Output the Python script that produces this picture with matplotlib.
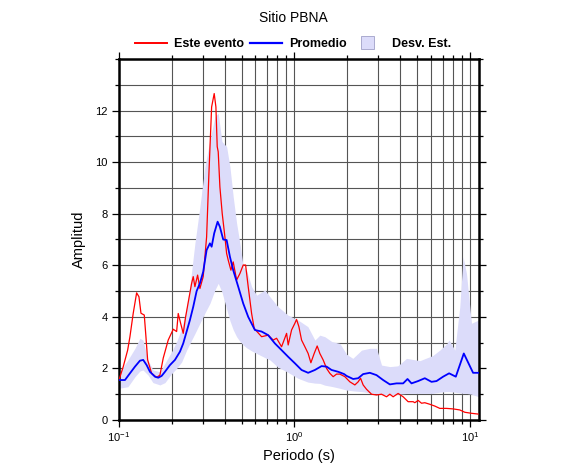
import numpy as np
import matplotlib
matplotlib.use('Agg')
import matplotlib.pyplot as plt
from matplotlib.ticker import LogLocator, MultipleLocator, NullFormatter, FixedLocator
from matplotlib.patches import Patch, Rectangle
from matplotlib.lines import Line2D
from matplotlib.legend_handler import HandlerPatch

plt.rcParams['font.family'] = ['Liberation Sans', 'DejaVu Sans']

# Este evento (red)
ev_per = [0.100, 0.1058, 0.1121, 0.1155, 0.1206, 0.1261, 0.1300, 0.1335, 0.1394, 0.1425,
          0.1457, 0.1535, 0.1640, 0.1712, 0.1788, 0.1909, 0.2039, 0.2132, 0.2177, 0.2247,
          0.2325, 0.2399, 0.2506, 0.2596, 0.2651, 0.2710, 0.2808, 0.2894, 0.3022, 0.3160,
          0.3257, 0.3375, 0.3491, 0.3570, 0.3632, 0.3680, 0.3762, 0.3878, 0.4018, 0.4109,
          0.4196, 0.4347, 0.4480, 0.4685, 0.4893, 0.5109, 0.5272, 0.5455, 0.5704, 0.5902,
          0.6504, 0.7091, 0.7572, 0.7917, 0.8453, 0.9029, 0.9220, 0.9639, 1.0065, 1.029,
          1.061, 1.099, 1.148, 1.198, 1.242, 1.297, 1.349, 1.397, 1.459, 1.526,
          1.593, 1.664, 1.740, 1.817, 1.940, 2.072, 2.212, 2.310, 2.384, 2.466,
          2.579, 2.754, 2.940, 3.140, 3.353, 3.502, 3.656, 3.904, 4.169, 4.451,
          4.753, 4.860, 5.075, 5.307, 5.541, 5.917, 6.318, 6.746, 7.368, 8.034,
          8.770, 9.365, 10.22, 11.15]
ev_amp = [1.55, 2.07, 2.71, 3.23, 4.14, 4.93, 4.78, 4.14, 4.07, 3.23,
          2.33, 1.81, 1.65, 1.74, 2.40, 3.10, 3.52, 3.43, 4.13, 3.75,
          3.36, 4.00, 4.72, 5.30, 5.56, 5.17, 5.62, 5.10, 5.56, 7.10,
          9.56, 12.14, 12.66, 12.14, 10.6, 10.4, 9.04, 8.01, 7.10, 6.46,
          6.20, 5.81, 6.13, 5.43, 5.68, 6.01, 6.01, 5.17, 4.13, 3.55,
          3.23, 3.29, 3.10, 3.17, 2.84, 3.36, 2.91, 3.49, 3.75, 3.90,
          3.62, 3.10, 2.84, 2.58, 2.22, 2.58, 2.87, 2.58, 2.33, 2.00,
          1.81, 1.68, 1.78, 1.78, 1.68, 1.48, 1.36, 1.48, 1.62, 1.36,
          1.19, 1.00, 0.97, 1.00, 0.90, 1.00, 0.90, 1.03, 0.90, 0.71,
          0.71, 0.67, 0.76, 0.65, 0.67, 0.61, 0.54, 0.45, 0.45, 0.43,
          0.39, 0.30, 0.26, 0.23]

# Promedio (blue)
pr_per = [0.100, 0.1082, 0.1155, 0.1234, 0.1317, 0.1375, 0.1438, 0.1502, 0.1604, 0.1675,
          0.1751, 0.1829, 0.1953, 0.2085, 0.2227, 0.2325, 0.2431, 0.2539, 0.2651, 0.2772,
          0.2894, 0.3022, 0.3160, 0.3300, 0.3375, 0.3491, 0.3651, 0.3762, 0.3929, 0.4109,
          0.4292, 0.4480, 0.4785, 0.5109, 0.5455, 0.5824, 0.5956, 0.6504, 0.7091, 0.7744,
          0.8453, 0.9220, 1.0065, 1.099, 1.198, 1.309, 1.429, 1.526, 1.629, 1.777,
          1.922, 1.984, 2.163, 2.310, 2.466, 2.693, 2.940, 3.206, 3.502, 3.822,
          4.169, 4.416, 4.654, 5.075, 5.541, 6.051, 6.462, 7.046, 7.624, 8.323,
          9.244, 10.44, 11.25]
pr_amp = [1.55, 1.55, 1.81, 2.07, 2.30, 2.33, 2.13, 1.87, 1.68, 1.64,
          1.71, 1.87, 2.13, 2.33, 2.65, 2.97, 3.43, 3.88, 4.39, 5.00,
          5.30, 5.75, 6.59, 6.85, 6.72, 7.24, 7.69, 7.49, 7.00, 6.98,
          6.33, 5.81, 5.17, 4.52, 4.00, 3.62, 3.49, 3.43, 3.29, 2.97,
          2.71, 2.45, 2.20, 1.94, 1.83, 1.94, 2.09, 2.07, 1.94, 1.87,
          1.78, 1.71, 1.59, 1.62, 1.78, 1.83, 1.74, 1.55, 1.38, 1.42,
          1.42, 1.59, 1.42, 1.51, 1.62, 1.48, 1.51, 1.68, 1.81, 1.68,
          2.58, 1.83, 1.83]

# Desv. Est. band
sd_per = [0.100, 0.1125, 0.1234, 0.1317, 0.1370, 0.1463, 0.1562, 0.1712, 0.1829, 0.1997,
          0.2132, 0.2277, 0.2431, 0.2539, 0.2710, 0.2894, 0.3090, 0.3300, 0.3524, 0.3680,
          0.3863, 0.4109, 0.4292, 0.4480, 0.4685, 0.4893, 0.5109, 0.5342, 0.5704, 0.6091,
          0.6792, 0.7252, 0.8054, 0.9183, 1.047, 1.194, 1.309, 1.397, 1.492, 1.636,
          1.817, 1.984, 2.154, 2.415, 2.693, 2.940, 3.140, 3.502, 3.888, 4.358,
          5.191, 6.155, 6.746, 7.368, 7.624, 8.214, 8.770, 9.158, 9.576, 10.22,
          11.25]
sd_hi = [1.81, 2.33, 2.78, 3.17, 3.10, 2.33, 1.94, 1.87, 2.20, 2.65,
         3.04, 3.55, 4.39, 5.20, 6.85, 8.27, 9.82, 10.85, 11.76, 11.9,
         10.8, 10.6, 9.82, 8.66, 7.63, 6.85, 5.94, 5.81, 5.17, 4.84,
         5.04, 4.78, 4.40, 4.07, 3.88, 3.62, 3.10, 3.29, 3.23, 3.04,
         2.97, 2.55, 2.39, 2.71, 2.78, 2.78, 2.13, 2.07, 2.10, 2.39,
         2.30, 2.50, 2.71, 2.95, 3.10, 2.71, 4.39, 6.33, 5.68, 3.75,
         3.88]
sd_lo = [1.23, 1.29, 1.68, 1.90, 1.94, 1.75, 1.45, 1.36, 1.45, 1.80,
         2.00, 2.25, 2.71, 2.97, 3.35, 3.75, 4.15, 4.52, 5.04, 5.30,
         4.97, 4.30, 3.85, 3.50, 3.23, 3.05, 2.91, 2.80, 2.68, 2.58,
         2.42, 2.33, 2.05, 1.85, 1.62, 1.47, 1.43, 1.42, 1.35, 1.30,
         1.23, 1.16, 1.13, 1.10, 1.05, 1.02, 1.00, 0.97, 1.00, 1.03,
         1.03, 1.03, 1.08, 1.10, 1.10, 1.08, 1.05, 1.03, 1.03, 1.00,
         0.90]

amp_ticks = [0, 2, 4, 6, 8, 10, 12]
band_col = '#dcdcfa'


def square_patch(legend, orig_handle, xdescent, ydescent, width, height, fontsize):
    s = height * 1.45
    return Rectangle(((width - s) * 0.45 - xdescent, (height - s) / 2 - ydescent), s, s)


fig = plt.figure(figsize=(5.86, 4.75), dpi=100)
ax = fig.add_axes([0.203, 0.1158, 0.614, 0.76])

ax.fill_between(sd_per, sd_lo, sd_hi, color=band_col, lw=0, zorder=1)
ax.plot(ev_per, ev_amp, color='red', lw=0.9, zorder=3)
ax.plot(pr_per, pr_amp, color='blue', lw=1.3, zorder=4)

ax.set_xscale('log')
ax.set_xlim(0.1, 11.25)
ax.set_ylim(0, 14)

ax.xaxis.set_major_locator(LogLocator(base=10, numticks=10))
ax.xaxis.set_minor_locator(LogLocator(base=10, subs=np.arange(2, 10), numticks=20))
ax.xaxis.set_minor_formatter(NullFormatter())
ax.yaxis.set_major_locator(FixedLocator(amp_ticks))
ax.yaxis.set_minor_locator(MultipleLocator(1))

ax.grid(which='both', color='#555555', lw=0.8, zorder=0)
ax.set_axisbelow(True)

ax.tick_params(which='both', direction='out', top=True, right=True, labelsize=8, width=0.9)
ax.tick_params(which='major', length=5, pad=3)
ax.tick_params(axis='x', which='major', pad=2)
ax.tick_params(which='minor', length=3)
for s in ax.spines.values():
    s.set_linewidth(1.8)

ax.set_xlabel('Periodo (s)', fontsize=10.5, labelpad=4)
ax.set_ylabel('Amplitud', fontsize=10.5, labelpad=7)
fig.text(0.5, 0.962, 'Sitio PBNA', ha='center', va='center', fontsize=10)

handles = [Line2D([], [], color='red', lw=1.4),
           Line2D([], [], color='blue', lw=1.6),
           Patch(facecolor=band_col, edgecolor='#a0a0c8', lw=0.6)]
fig.legend(handles, ['Este evento', 'Promedio', 'Desv. Est.'], loc='center',
           bbox_to_anchor=(0.5, 0.907), ncol=3, frameon=False,
           handlelength=2.5, columnspacing=0.5, handletextpad=0.6,
           prop={'weight': 'bold', 'size': 9},
           handler_map={Patch: HandlerPatch(patch_func=square_patch)})

plt.savefig('out.png', dpi=100)
